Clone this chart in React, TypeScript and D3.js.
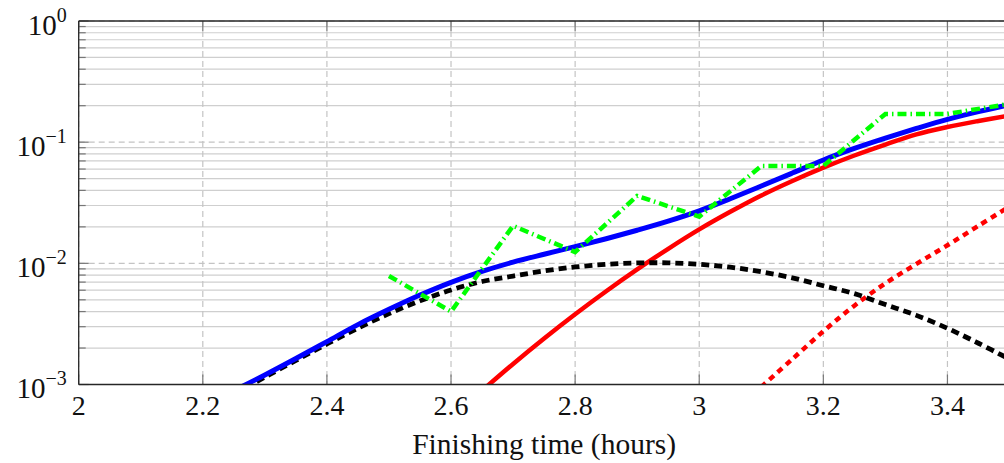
import { useRef, useEffect } from 'react';
import * as d3 from 'd3';

// model curves sampled every 0.05 h
const gridTimes = [2.25, 2.3, 2.35, 2.4, 2.45, 2.5, 2.55, 2.6, 2.65, 2.7, 2.75, 2.8, 2.85, 2.9, 2.95, 3.0, 3.05, 3.1, 3.15, 3.2, 3.25, 3.3, 3.35, 3.4, 3.45, 3.5];
const totalProb = [0.000891, 0.0012, 0.00164, 0.00226, 0.00312, 0.00417, 0.00547, 0.00697, 0.00857, 0.01023, 0.01189, 0.01374, 0.01596, 0.01875, 0.02228, 0.0271, 0.03412, 0.04345, 0.05559, 0.07129, 0.08872, 0.1079, 0.1297, 0.1542, 0.1786, 0.2042];
const earlyProb = [0.000832, 0.00115, 0.00158, 0.00216, 0.00292, 0.00385, 0.0049, 0.00603, 0.00708, 0.00785, 0.00865, 0.00933, 0.00982, 0.01007, 0.01009, 0.00982, 0.00929, 0.00851, 0.00759, 0.00653, 0.00562, 0.00457, 0.00372, 0.00291, 0.00219, 0.00162];

const redTimes = [2.65, 2.7, 2.75, 2.8, 2.85, 2.9, 2.95, 3.0, 3.05, 3.1, 3.15, 3.2, 3.25, 3.3, 3.35, 3.4, 3.45, 3.5];
const redProb = [0.000891, 0.001479, 0.002399, 0.003802, 0.005888, 0.008913, 0.01318, 0.01905, 0.02661, 0.03631, 0.04786, 0.06166, 0.07762, 0.0955, 0.1161, 0.1334, 0.1496, 0.166];

const dottedTimes = [3.1, 3.15, 3.2, 3.25, 3.3, 3.35, 3.4, 3.45, 3.5];
const dottedProb = [0.000955, 0.00162, 0.00275, 0.00447, 0.00684, 0.00989, 0.0141, 0.0204, 0.0295];

// empirical histogram
const simTimes = [2.5, 2.6, 2.7, 2.8, 2.9, 3.0, 3.1, 3.2, 3.3, 3.4, 3.5];
const simProb = [0.00787, 0.004, 0.0204, 0.0124, 0.036, 0.0243, 0.0636, 0.0636, 0.171, 0.171, 0.207];

const xTicks = [2, 2.2, 2.4, 2.6, 2.8, 3, 3.2, 3.4];
const yExps = [-3, -2, -1, 0];

const App = () => {
  const svgRef = useRef(null);

  useEffect(() => {
    const svg = d3.select(svgRef.current);
    svg.selectAll('*').remove();

    const LEFT = 78.7, TOP = 21, BOTTOM = 384.5, RIGHT = 1009.5;

    const xScale = d3.scaleLinear().domain([2, 3.5]).range([LEFT, RIGHT]);
    const yScale = d3.scaleLog().domain([1e-3, 1]).range([BOTTOM, TOP]);

    svg.append('defs').append('clipPath')
      .attr('id', 'plotclip')
      .append('rect')
      .attr('x', LEFT)
      .attr('y', TOP)
      .attr('width', RIGHT - LEFT)
      .attr('height', BOTTOM - TOP);

    // minor horizontal grid
    const minors = [];
    yExps.slice(0, 3).forEach(e => {
      for (let k = 2; k <= 9; k++) minors.push(k * Math.pow(10, e));
    });
    svg.append('g').selectAll('line')
      .data(minors)
      .join('line')
      .attr('x1', LEFT).attr('x2', RIGHT)
      .attr('y1', d => yScale(d)).attr('y2', d => yScale(d))
      .attr('stroke', '#cfcfcf')
      .attr('stroke-width', 1.2);

    // major grid
    svg.append('g').selectAll('line')
      .data(yExps.map(e => Math.pow(10, e)))
      .join('line')
      .attr('x1', LEFT).attr('x2', RIGHT)
      .attr('y1', d => yScale(d)).attr('y2', d => yScale(d))
      .attr('stroke', '#c4c4c4')
      .attr('stroke-width', 1.2)
      .attr('stroke-dasharray', '6 4');

    svg.append('g').selectAll('line')
      .data(xTicks)
      .join('line')
      .attr('x1', d => xScale(d)).attr('x2', d => xScale(d))
      .attr('y1', TOP).attr('y2', BOTTOM)
      .attr('stroke', '#c4c4c4')
      .attr('stroke-width', 1.2)
      .attr('stroke-dasharray', '6 4');

    // ticks (inward)
    const ticks = svg.append('g').attr('stroke', '#777').attr('stroke-width', 1.2);
    minors.forEach(v => {
      ticks.append('line').attr('x1', LEFT).attr('x2', LEFT + 7).attr('y1', yScale(v)).attr('y2', yScale(v));
    });
    yExps.forEach(e => {
      ticks.append('line').attr('x1', LEFT).attr('x2', LEFT + 10).attr('y1', yScale(Math.pow(10, e))).attr('y2', yScale(Math.pow(10, e)));
    });
    xTicks.forEach(t => {
      ticks.append('line').attr('x1', xScale(t)).attr('x2', xScale(t)).attr('y1', BOTTOM).attr('y2', BOTTOM - 10);
      ticks.append('line').attr('x1', xScale(t)).attr('x2', xScale(t)).attr('y1', TOP).attr('y2', TOP + 10);
    });

    const plot = svg.append('g').attr('clip-path', 'url(#plotclip)');

    const smooth = d3.line()
      .x(d => xScale(d[0]))
      .y(d => yScale(d[1]))
      .curve(d3.curveCatmullRom.alpha(0.5));

    const straight = d3.line()
      .x(d => xScale(d[0]))
      .y(d => yScale(d[1]));

    plot.append('path')
      .attr('d', smooth(d3.zip(redTimes, redProb)))
      .attr('stroke', '#ff0000')
      .attr('stroke-width', 4.5)
      .attr('fill', 'none');

    plot.append('path')
      .attr('d', smooth(d3.zip(dottedTimes, dottedProb)))
      .attr('stroke', '#ff0000')
      .attr('stroke-width', 4.5)
      .attr('stroke-dasharray', '6 5')
      .attr('fill', 'none');

    plot.append('path')
      .attr('d', smooth(d3.zip(gridTimes, earlyProb)))
      .attr('stroke', '#000000')
      .attr('stroke-width', 4.8)
      .attr('stroke-dasharray', '8 5')
      .attr('fill', 'none');

    plot.append('path')
      .attr('d', smooth(d3.zip(gridTimes, totalProb)))
      .attr('stroke', '#0000ff')
      .attr('stroke-width', 5)
      .attr('fill', 'none');

    plot.append('path')
      .attr('d', straight(d3.zip(simTimes, simProb)))
      .attr('stroke', '#00ff00')
      .attr('stroke-width', 4.5)
      .attr('stroke-dasharray', '9 4 1.5 4')
      .attr('fill', 'none');

    // axis frame
    const frame = svg.append('g').attr('stroke', '#262626').attr('stroke-width', 1.3);
    frame.append('line').attr('x1', LEFT).attr('x2', RIGHT).attr('y1', BOTTOM).attr('y2', BOTTOM);
    frame.append('line').attr('x1', LEFT).attr('x2', RIGHT).attr('y1', TOP).attr('y2', TOP);
    frame.append('line').attr('x1', LEFT).attr('x2', LEFT).attr('y1', TOP).attr('y2', BOTTOM);
    frame.append('line').attr('x1', RIGHT).attr('x2', RIGHT).attr('y1', TOP).attr('y2', BOTTOM);

    const font = "'Liberation Serif', 'Times New Roman', serif";

    svg.append('g').selectAll('text')
      .data(xTicks)
      .join('text')
      .attr('x', d => xScale(d))
      .attr('y', BOTTOM + 30.5)
      .attr('text-anchor', 'middle')
      .attr('font-family', font)
      .attr('font-size', 28)
      .attr('fill', '#111')
      .text(d => d3.format('~g')(d));

    yExps.forEach(e => {
      const t = svg.append('text')
        .attr('x', LEFT - 12)
        .attr('y', yScale(Math.pow(10, e)) + 13.5)
        .attr('text-anchor', 'end')
        .attr('font-family', font)
        .attr('fill', '#111')
        .attr('font-size', 29);
      t.append('tspan').text('10');
      t.append('tspan')
        .attr('font-size', 20)
        .attr('dy', -13)
        .text(e < 0 ? '\u2212' + Math.abs(e) : String(e));
    });

    svg.append('text')
      .attr('x', (LEFT + RIGHT) / 2)
      .attr('y', BOTTOM + 69)
      .attr('text-anchor', 'middle')
      .attr('font-family', font)
      .attr('font-size', 29.5)
      .attr('fill', '#111')
      .text('Finishing time (hours)');
  }, []);

  return (
    <svg
      ref={svgRef}
      width={1004}
      height={463}
      style={{ position: 'absolute', left: 0, top: 0, background: '#fff' }}
    />
  );
};

export default App;
